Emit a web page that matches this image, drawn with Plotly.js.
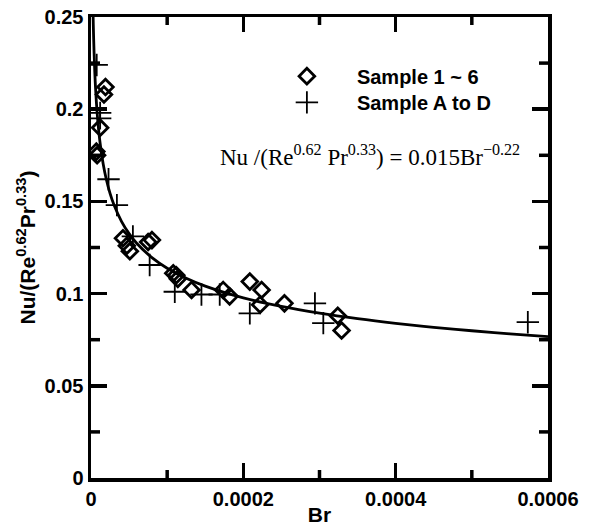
<!DOCTYPE html>
<html>
<head>
<meta charset="utf-8">
<script src="https://cdn.plot.ly/plotly-3.0.1.min.js"></script>
<style>html,body{margin:0;padding:0;background:#fff;}#chart{width:593px;height:531px;}</style>
</head>
<body>
<div id="chart"></div>
<script>
// Sample 1 ~ 6 (diamonds)
var sample16Br = [1.9e-5, 1.7e-5, 1.2e-5, 7e-6, 8e-6, 4.2e-5, 5.1e-5, 4.7e-5, 7.5e-5, 8.0e-5, 1.08e-4, 1.12e-4, 1.14e-4, 1.32e-4, 1.735e-4, 1.82e-4, 2.085e-4, 2.24e-4, 2.22e-4, 2.54e-4, 3.24e-4, 3.29e-4];
var sample16Nu = [0.212, 0.208, 0.190, 0.177, 0.175, 0.130, 0.123, 0.126, 0.128, 0.129, 0.111, 0.110, 0.108, 0.102, 0.102, 0.0985, 0.1065, 0.102, 0.094, 0.0947, 0.088, 0.080];
// Sample A to D (plus)
var sampleADBr = [7.5e-6, 1.2e-5, 1.2e-5, 2.3e-5, 3.4e-5, 5.5e-5, 7.7e-5, 1.10e-4, 1.45e-4, 1.69e-4, 2.085e-4, 2.94e-4, 3.05e-4, 5.735e-4];
var sampleADNu = [0.224, 0.198, 0.195, 0.162, 0.148, 0.131, 0.1155, 0.101, 0.0995, 0.0995, 0.0893, 0.0947, 0.084, 0.0845];
// Fit shown on the chart: Nu/(Re^0.62 Pr^0.33) = 0.015 Br^-0.22
var fitCoef = 0.015;
var fitExp = -0.22;
var fitBr = [2.5e-6, 3e-6, 4e-6, 5e-6, 6e-6, 8e-6, 1e-5, 1.3e-5, 1.6e-5, 2e-5, 2.5e-5, 3e-5, 4e-5, 5e-5, 6e-5, 8e-5, 1e-4, 1.25e-4, 1.5e-4, 2e-4, 2.5e-4, 3e-4, 3.5e-4, 4e-4, 4.5e-4, 5e-4, 5.5e-4, 6e-4];
var fitNu = fitBr.map(function (b) { return fitCoef * Math.pow(b, fitExp); });

var xTickVals = [0, 0.0002, 0.0004, 0.0006];
var xTickText = ["0", "0.0002", "0.0004", "0.0006"];
var xMinorVals = [0.0001, 0.0003, 0.0005];
var yTickVals = [0, 0.05, 0.1, 0.15, 0.2, 0.25];
var yTickText = ["0", "0.05", "0.1", "0.15", "0.2", "0.25"];
var yMinorVals = [0.025, 0.075, 0.125, 0.175, 0.225];

var xRange = [0, 0.0006];
var yRange = [0, 0.25];

var sans = "Liberation Sans, Arial, sans-serif";
var serif = "Liberation Serif, Times New Roman, serif";
function bold(arr) { return arr.map(function (t) { return "<b>" + t + "</b>"; }); }

var W = 593, H = 531, ML = 91, MR = 45, MT = 17, MB = 53;
var plotW = W - ML - MR, plotH = H - MT - MB;
var minorLen = 8;

// inward minor tick marks on all four sides, placed at the minor tick values
var dxPerPx = (xRange[1] - xRange[0]) / plotW;
var dyPerPx = (yRange[1] - yRange[0]) / plotH;
var tickX = [], tickY = [];
function addXTicks(vals, len) {
  vals.forEach(function (v) {
    tickX.push(v, v, null, v, v, null);
    tickY.push(yRange[0], yRange[0] + len * dyPerPx, null, yRange[1], yRange[1] - len * dyPerPx, null);
  });
}
function addYTicks(vals, len) {
  vals.forEach(function (v) {
    tickX.push(xRange[0], xRange[0] + len * dxPerPx, null, xRange[1], xRange[1] - len * dxPerPx, null);
    tickY.push(v, v, null, v, v, null);
  });
}
addXTicks(xMinorVals, minorLen);
addYTicks(yMinorVals, minorLen + 1);

var traces = [
  {x: tickX, y: tickY, mode: "lines", line: {color: "#000", width: 3.5}, showlegend: false, hoverinfo: "skip"},
  {x: fitBr, y: fitNu, mode: "lines", line: {color: "#000", width: 2.8, shape: "spline"}, showlegend: false, hoverinfo: "skip"},
  {x: sample16Br, y: sample16Nu, mode: "markers", name: "Sample 1 ~ 6", legend: "legend",
   marker: {symbol: "diamond-open", size: 12, color: "#000", line: {color: "#000", width: 2.8}}},
  {x: sampleADBr, y: sampleADNu, mode: "markers", name: "Sample A to D", legend: "legend2",
   marker: {symbol: "cross-thin-open", size: 16, color: "#000", line: {color: "#000", width: 1.8}}}
];

var tickFont = {family: sans, size: 20, color: "#000"};
var legendFont = {family: sans, size: 20, color: "#000", weight: "bold"};

var layout = {
  width: W, height: H,
  margin: {l: ML, r: MR, t: MT, b: MB},
  paper_bgcolor: "#fff", plot_bgcolor: "#fff",
  showlegend: true,
  legend: {x: 0.363, y: 0.914, xanchor: "left", yanchor: "top", itemwidth: 90, bgcolor: "rgba(0,0,0,0)", font: legendFont},
  legend2: {x: 0.363, y: 0.857, xanchor: "left", yanchor: "top", itemwidth: 90, bgcolor: "rgba(0,0,0,0)", font: legendFont},
  xaxis: {
    range: xRange, tickmode: "array", tickvals: xTickVals, ticktext: bold(xTickText),
    showline: true, linecolor: "#000", linewidth: 3.5, mirror: "ticks",
    ticks: "inside", ticklen: 15, tickwidth: 3.5, tickcolor: "#000",
    showgrid: false, zeroline: false, tickfont: tickFont,
    title: {text: "<b>Br</b>", standoff: 0, font: {family: sans, size: 21, color: "#000"}}
  },
  yaxis: {
    range: yRange, tickmode: "array", tickvals: yTickVals, ticktext: bold(yTickText),
    showline: true, linecolor: "#000", linewidth: 3.5, mirror: "ticks",
    ticks: "inside", ticklen: 16, tickwidth: 3.5, tickcolor: "#000",
    showgrid: false, zeroline: false, tickfont: tickFont,
    title: {text: "<b>Nu/(Re<sup>0.62</sup>Pr<sup>0.33</sup>)</b>", standoff: 4, font: {family: sans, size: 21, color: "#000"}}
  },
  annotations: [
    {xref: "paper", yref: "paper", x: 0.61, y: 0.70, xanchor: "center", yanchor: "middle", showarrow: false,
     text: "Nu /(Re<sup>0.62</sup> Pr<sup>0.33</sup>) = 0.015Br<sup>\u22120.22</sup>",
     font: {family: serif, size: 23, color: "#000"}}
  ]
};

Plotly.newPlot("chart", traces, layout, {displayModeBar: false, staticPlot: true});
</script>
</body>
</html>
